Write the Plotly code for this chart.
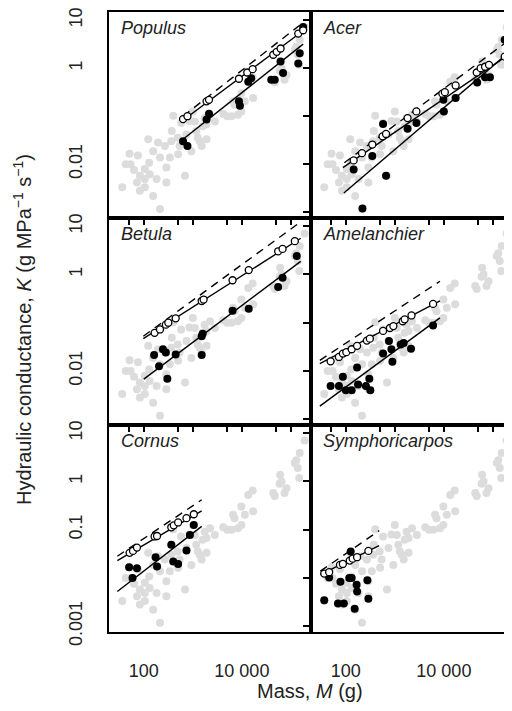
import plotly.graph_objects as go

# ---------------- data (log10 values) ----------------
# background cloud (all species pooled), same in every panel
gray_logM = [1.56, 1.71, 1.88, 1.63, 1.73, 1.92, 2.02, 2.12, 2.26, 1.92, 2.19, 2.33, 2.09, 2.29, 2.43,
             2.46, 2.46, 2.60, 2.57, 2.84, 2.11, 2.33, 2.02, 1.86, 2.02, 2.19, 1.80, 2.53, 2.70, 2.56,
             2.73, 2.87, 2.97, 3.14, 3.18, 3.28, 3.35, 3.45, 3.07, 3.28, 3.04, 2.76, 2.93, 3.00, 3.20,
             3.24, 2.69, 3.10, 3.79, 3.82, 3.99, 3.99, 4.23, 4.13, 4.22, 4.64, 4.67, 4.78, 4.81, 4.91,
             4.77, 4.87, 5.08, 5.14, 5.17, 5.28, 5.18, 5.11, 3.85, 3.92, 4.06, 3.62, 3.70]
gray_logK = [-2.48, -1.78, -1.82, -2.00, -2.00, -2.24, -2.31, -2.21, -2.31, -2.55, -2.66, -2.93, -1.48, -1.55, -1.62,
             -2.07, -2.38, -0.99, -1.31, -2.24, -1.97, -1.86, -2.10, -2.38, -2.48, -1.73, -2.12, -1.86, -1.79, -1.52,
             -1.62, -1.38, -1.73, -1.52, -1.62, -1.48, -0.97, -1.11, -1.31, -1.17, -1.11, -1.14, -1.10, -0.90, -1.21,
             -1.04, -1.45, -1.45, -1.00, -0.69, -0.52, -0.90, -0.62, -0.28, -0.19, -0.24, -0.30, 0.14, 0.00, -0.14,
             -0.05, -0.24, 0.38, 0.28, 0.07, 0.85, 0.59, 0.44, -0.76, -0.97, -0.69, -0.95, -1.00]

species = ["Populus", "Acer", "Betula", "Amelanchier", "Cornus", "Symphoricarpos"]

open_logM = {
    "Populus": [2.80, 2.89, 3.28, 3.33, 3.94, 4.11, 4.22, 4.64, 4.71, 4.79, 5.15, 5.25],
    "Acer": [2.16, 2.33, 2.54, 2.75, 2.82, 3.26, 3.44, 3.97, 4.02, 4.24, 4.67, 4.75, 4.84, 4.92, 5.24],
    "Betula": [2.22, 2.33, 2.45, 2.50, 2.65, 3.18, 3.22, 3.81, 4.14, 4.74, 4.83, 5.08],
    "Amelanchier": [1.69, 1.86, 1.94, 2.01, 2.12, 2.23, 2.43, 2.49, 2.76, 2.90, 2.97, 3.16, 3.20, 3.34, 3.78],
    "Cornus": [1.71, 1.78, 1.86, 2.22, 2.27, 2.56, 2.61, 2.70, 2.87, 3.02],
    "Symphoricarpos": [1.56, 1.66, 1.88, 1.94, 2.08, 2.14, 2.23, 2.46],
}
open_logK = {
    "Populus": [-1.06, -1.00, -0.69, -0.66, -0.22, -0.09, -0.02, 0.28, 0.34, 0.41, 0.72, 0.79],
    "Acer": [-1.92, -1.77, -1.59, -1.42, -1.37, -1.04, -0.90, -0.53, -0.50, -0.36, -0.09, 0.00, 0.03, 0.07, 0.24],
    "Betula": [-1.21, -1.14, -1.04, -1.00, -0.91, -0.55, -0.52, -0.12, 0.09, 0.48, 0.53, 0.69],
    "Amelanchier": [-1.80, -1.71, -1.64, -1.61, -1.55, -1.48, -1.37, -1.33, -1.17, -1.11, -1.07, -0.97, -0.93, -0.85, -0.61],
    "Cornus": [-1.48, -1.44, -1.37, -1.14, -1.13, -0.95, -0.91, -0.85, -0.76, -0.68],
    "Symphoricarpos": [-1.91, -1.88, -1.73, -1.71, -1.64, -1.60, -1.57, -1.44],
}
filled_logM = {
    "Populus": [2.80, 2.89, 3.28, 3.33, 3.94, 3.96, 4.13, 4.19, 4.60, 4.67, 4.79, 4.84, 5.15, 5.18, 5.25],
    "Acer": [2.16, 2.34, 2.54, 2.76, 2.82, 3.26, 3.44, 3.99, 4.00, 4.24, 4.68, 4.84, 4.94, 5.24],
    "Betula": [2.21, 2.31, 2.39, 2.45, 2.48, 2.65, 3.18, 3.20, 3.18, 3.81, 4.14, 4.74, 4.83, 5.12],
    "Amelanchier": [1.69, 1.86, 1.94, 2.00, 2.12, 2.23, 2.25, 2.41, 2.48, 2.50, 2.76, 2.88, 2.93, 2.95, 3.12, 3.18, 3.33, 3.78],
    "Cornus": [1.70, 1.86, 1.77, 2.24, 2.27, 2.56, 2.60, 2.70, 2.87, 2.94, 3.02],
    "Symphoricarpos": [1.66, 1.56, 1.84, 1.96, 1.89, 2.07, 2.12, 2.18, 2.22, 2.23, 2.44, 2.46, 2.10],
}
filled_logK = {
    "Populus": [-1.52, -1.62, -1.07, -0.95, -0.69, -0.78, -0.28, -0.21, -0.24, -0.24, 0.14, -0.10, 0.10, 0.31, 0.86],
    "Acer": [-2.11, -2.92, -1.83, -1.16, -2.24, -1.26, -1.14, -0.66, -0.90, -0.62, -0.30, -0.19, -0.19, 0.59],
    "Betula": [-1.67, -1.90, -1.55, -1.62, -2.16, -1.66, -1.28, -1.23, -1.67, -0.75, -0.71, -0.26, -0.07, 0.38],
    "Amelanchier": [-2.31, -2.31, -2.12, -2.40, -2.40, -1.93, -2.28, -2.31, -2.16, -2.40, -1.64, -1.38, -1.55, -1.81, -1.45, -1.42, -1.54, -1.06],
    "Cornus": [-1.78, -1.80, -2.00, -1.57, -1.76, -1.31, -1.66, -1.71, -1.43, -1.11, -0.90],
    "Symphoricarpos": [-1.99, -2.46, -2.53, -2.53, -2.08, -2.00, -2.00, -2.64, -2.14, -2.28, -2.05, -2.43, -1.45],
}
# fitted lines: end points (log10 M, log10 K)
open_fit_logM = {"Populus": [2.78, 5.25], "Acer": [1.94, 5.35], "Betula": [1.99, 5.20],
                 "Amelanchier": [1.47, 3.92], "Cornus": [1.46, 3.18], "Symphoricarpos": [1.48, 2.68]}
open_fit_logK = {"Populus": [-1.10, 0.78], "Acer": [-2.07, 0.30], "Betula": [-1.33, 0.75],
                 "Amelanchier": [-1.85, -0.55], "Cornus": [-1.64, -0.61], "Symphoricarpos": [-1.93, -1.33]}
dash_fit_logM = {"Populus": [2.80, 5.25], "Acer": [1.97, 5.35], "Betula": [1.99, 5.20],
                 "Amelanchier": [1.47, 3.92], "Cornus": [1.46, 3.18], "Symphoricarpos": [1.48, 2.68]}
dash_fit_logK = {"Populus": [-1.00, 0.95], "Acer": [-1.97, 0.60], "Betula": [-1.28, 1.09],
                 "Amelanchier": [-1.78, -0.14], "Cornus": [-1.55, -0.38], "Symphoricarpos": [-1.86, -1.02]}
filled_fit_logM = {"Populus": [2.80, 5.25], "Acer": [1.96, 5.35], "Betula": [2.00, 5.20],
                   "Amelanchier": [1.47, 3.92], "Cornus": [1.46, 3.18]}
filled_fit_logK = {"Populus": [-1.48, 0.50], "Acer": [-2.60, 0.35], "Betula": [-2.17, 0.27],
                   "Amelanchier": [-2.73, -0.90], "Cornus": [-2.28, -0.93]}

x_inner_ticks = [50, 100, 500, 1000, 5000, 10000, 50000, 100000]
x_bottom_ticks = [100, 1000, 10000, 100000]
x_label_vals = [100, 10000]
x_label_text = ["100", "10 000"]
y_ticks = [10, 1, 0.1, 0.01, 0.001]
y_label_vals_upper = [10, 1, 0.01]
y_label_text_upper = ["10", "1", "0.01"]
y_label_vals_lower = [10, 1, 0.1, 0.001]
y_label_text_lower = ["10", "1", "0.1", "0.001"]

# ---------------- figure ----------------
W, H = 512, 711
OFF = 8  # page body margin of the browser shifts the figure by 8 px
FONT = "Liberation Sans, Arial, Helvetica, sans-serif"
TXT = "#222222"
CLEAR = "rgba(0,0,0,0)"


def fx(s):
    return (s - OFF) / W


def fy(s):
    return 1 - (s - OFF) / H


xdom = [[fx(109), fx(311)], [fx(311), fx(513)]]
ydom = [[fy(218), fy(12)], [fy(425), fy(218)], [fy(632), fy(425)]]
XR = [1.29, 5.41]
YR = [-3.12, 1.17]

AX = dict(showgrid=False, zeroline=False, automargin=False, tickcolor="black", tickwidth=1.5)


def p10(a):
    return [10 ** v for v in a]


fig = go.Figure()
layout = dict(width=W, height=H, margin=dict(l=0, r=0, t=0, b=0, autoexpand=False),
              paper_bgcolor="white", plot_bgcolor="white", showlegend=False,
              font=dict(family=FONT, color=TXT, size=18))
annotations = []
extra = [12]


def new_axis():
    extra[0] += 1
    return extra[0]


for i, sp in enumerate(species):
    r, c = divmod(i, 2)
    n = i + 1
    xa = "x" if n == 1 else f"x{n}"
    ya = "y" if n == 1 else f"y{n}"
    fig.add_trace(go.Scatter(x=p10(gray_logM), y=p10(gray_logK), mode="markers", xaxis=xa, yaxis=ya,
                             marker=dict(size=8, color="#dcdcdd", line=dict(width=0)), hoverinfo="skip"))
    fig.add_trace(go.Scatter(x=p10(dash_fit_logM[sp]), y=p10(dash_fit_logK[sp]), mode="lines", xaxis=xa, yaxis=ya,
                             line=dict(color="black", width=1.4, dash="8px,6px")))
    fig.add_trace(go.Scatter(x=p10(open_fit_logM[sp]), y=p10(open_fit_logK[sp]), mode="lines", xaxis=xa, yaxis=ya,
                             line=dict(color="black", width=1.4)))
    if sp in filled_fit_logM:
        fig.add_trace(go.Scatter(x=p10(filled_fit_logM[sp]), y=p10(filled_fit_logK[sp]), mode="lines",
                                 xaxis=xa, yaxis=ya, line=dict(color="black", width=1.4)))
    fig.add_trace(go.Scatter(x=p10(filled_logM[sp]), y=p10(filled_logK[sp]), mode="markers", xaxis=xa, yaxis=ya,
                             marker=dict(size=8, color="black", line=dict(width=0))))
    fig.add_trace(go.Scatter(x=p10(open_logM[sp]), y=p10(open_logK[sp]), mode="markers", xaxis=xa, yaxis=ya,
                             marker=dict(size=7, color="white", line=dict(width=1.3, color="black"))))

    xname = "xaxis" if n == 1 else f"xaxis{n}"
    yname = "yaxis" if n == 1 else f"yaxis{n}"
    bottom = (r == 2)
    if bottom:
        # labels only (invisible long ticks push labels away from the frame)
        layout[xname] = dict(AX, domain=xdom[c], anchor=ya, type="log", range=XR,
                             showline=True, linecolor="black", linewidth=2, mirror=True,
                             ticks="outside", ticklen=21, tickcolor=CLEAR,
                             tickvals=x_label_vals, ticktext=x_label_text, showticklabels=True,
                             tickfont=dict(size=18, color=TXT), ticklabeloverflow="allow")
        k = new_axis()
        layout[f"xaxis{k}"] = dict(AX, overlaying=xa, anchor=ya, side="bottom", type="log", range=XR,
                                   showline=False, ticks="outside", ticklen=7,
                                   tickvals=x_bottom_ticks, showticklabels=False)
    else:
        layout[xname] = dict(AX, domain=xdom[c], anchor=ya, type="log", range=XR,
                             showline=True, linecolor="black", linewidth=2, mirror=True,
                             ticks="outside", ticklen=5,
                             tickvals=x_inner_ticks, showticklabels=False)
    k = new_axis()
    layout[f"xaxis{k}"] = dict(AX, overlaying=xa, anchor=ya, side="top", type="log", range=XR,
                               showline=False, ticks="outside", ticklen=5,
                               tickvals=x_inner_ticks, showticklabels=False)
    if c == 0:
        layout[yname] = dict(AX, domain=ydom[r], anchor=xa, type="log", range=YR,
                             showline=True, linecolor="black", linewidth=2, mirror=True,
                             ticks="outside", ticklen=18, tickcolor=CLEAR,
                             tickvals=y_label_vals_lower if bottom else y_label_vals_upper,
                             ticktext=y_label_text_lower if bottom else y_label_text_upper,
                             showticklabels=True, tickangle=-90,
                             tickfont=dict(size=18, color=TXT), ticklabeloverflow="allow")
        k = new_axis()
        layout[f"yaxis{k}"] = dict(AX, overlaying=ya, anchor=xa, side="left", type="log", range=YR,
                                   showline=False, ticks="outside", ticklen=8,
                                   tickvals=y_ticks, showticklabels=False)
    else:
        layout[yname] = dict(AX, domain=ydom[r], anchor=xa, type="log", range=YR,
                             showline=True, linecolor="black", linewidth=2, mirror=False,
                             ticks="outside", ticklen=6,
                             tickvals=y_ticks, showticklabels=False)
        k = new_axis()
        layout[f"yaxis{k}"] = dict(AX, overlaying=ya, anchor=xa, side="right", type="log", range=YR,
                                   showline=False, ticks="inside", ticklen=6,
                                   tickvals=y_ticks, showticklabels=False)
    annotations.append(dict(text=f"<i>{sp}</i>", xref=f"{xa} domain", yref=f"{ya} domain",
                            x=0.05, y=1 - 16 / 207, xanchor="left", yanchor="middle", showarrow=False,
                            font=dict(size=18, color=TXT, family=FONT)))

annotations.append(dict(text="Hydraulic conductance, <i>K</i> (g MPa<sup>\u22121</sup> s<sup>\u22121</sup>)",
                        xref="paper", yref="paper", x=fx(22), y=fy(330), xanchor="center", yanchor="middle",
                        textangle=-90, showarrow=False, font=dict(size=20, color=TXT, family=FONT)))
annotations.append(dict(text="Mass, <i>M</i> (g)", xref="paper", yref="paper", x=fx(310), y=fy(691),
                        xanchor="center", yanchor="middle",
                        showarrow=False, font=dict(size=20, color=TXT, family=FONT)))
layout["annotations"] = annotations
fig.update_layout(**layout)
fig.write_html("out.html")
